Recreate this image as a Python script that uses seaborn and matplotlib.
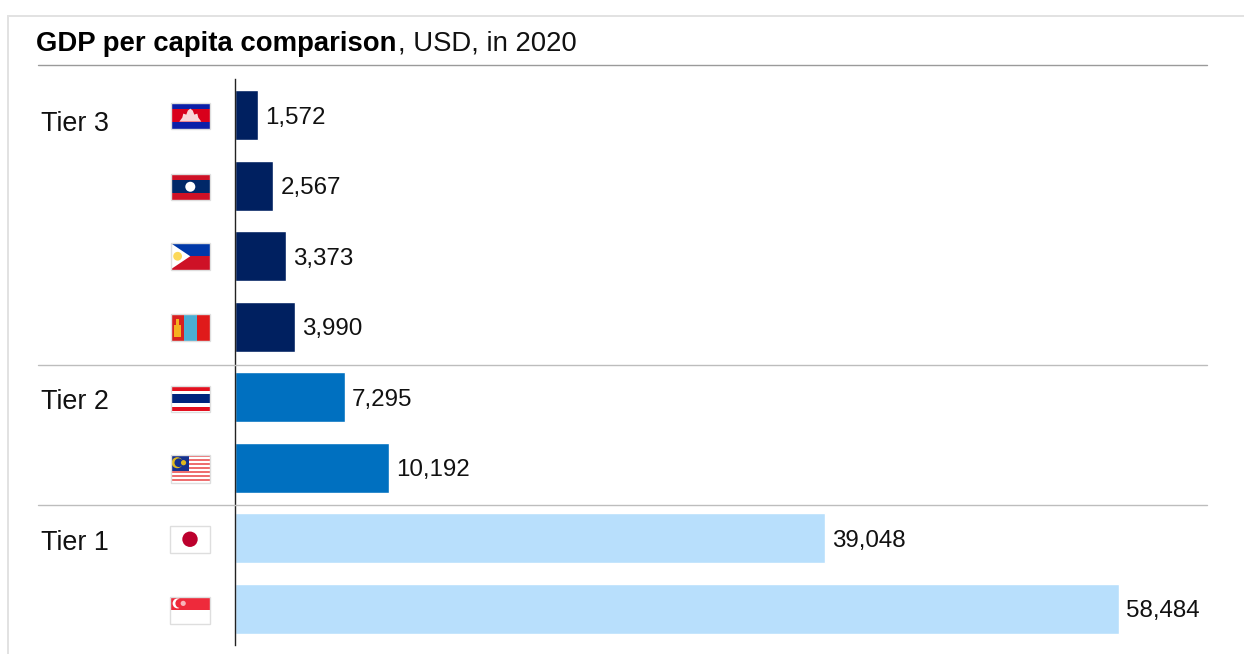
import matplotlib
matplotlib.use("Agg")
import matplotlib.pyplot as plt
from matplotlib.patches import Rectangle, Circle, Polygon
import pandas as pd
import seaborn as sns

countries = ["Cambodia", "Laos", "Philippines", "Mongolia", "Thailand", "Malaysia", "Japan", "Singapore"]
gdp_per_capita = [1572, 2567, 3373, 3990, 7295, 10192, 39048, 58484]
tiers = ["Tier 3", "Tier 3", "Tier 3", "Tier 3", "Tier 2", "Tier 2", "Tier 1", "Tier 1"]
tier_colors = {"Tier 3": "#002060", "Tier 2": "#0070C0", "Tier 1": "#B8DFFC"}

W, H = 1244, 654
sns.set_theme(style="white")
plt.rcParams["font.family"] = ["Liberation Sans", "DejaVu Sans"]
TEXT = "#111111"

fig = plt.figure(figsize=(W / 100, H / 100), dpi=100)
fig.patch.set_facecolor("white")

# Bar panel, placed in pixel terms: zero line at x=234.6, running from y=79.5 to y=645
X0 = 234.6
ax = fig.add_axes([X0 / W, 1 - 645 / H, (1207 - X0) / W, (645 - 79.5) / H])
df = pd.DataFrame({"country": countries, "gdp": gdp_per_capita, "tier": tiers})
sns.barplot(data=df, x="gdp", y="country", hue="tier", palette=tier_colors, dodge=False,
            width=0.705, legend=False, ax=ax, saturation=1, order=countries)
ax.set_xlim(0, (1207 - X0) / 0.01513)
ax.set_ylim(7.512, -0.505)
ax.set_xlabel("")
ax.set_ylabel("")
ax.set_xticks([])
ax.set_yticks([])
ax.patch.set_alpha(0)
for name in ("top", "right", "bottom"):
    ax.spines[name].set_visible(False)
ax.spines["left"].set_color("#222222")
ax.spines["left"].set_linewidth(1.0)

for i, value in enumerate(gdp_per_capita):
    ax.annotate(f"{value:,}", (value, i), xytext=(7, 0), textcoords="offset pixels",
                va="center_baseline", ha="left", fontsize=17.4, color=TEXT)

# Overlay in pixel coordinates for frame, rules, headings and flags
ov = fig.add_axes([0, 0, 1, 1], zorder=5)
ov.set_xlim(0, W)
ov.set_ylim(H, 0)
ov.axis("off")
ov.patch.set_alpha(0)

ov.plot([8, 8, W], [H, 15.5, 15.5], color="#E2E2E2", lw=1.4, solid_joinstyle="miter")
ov.plot([38, 1207], [65, 65], color="#9A9A9A", lw=1.0)
ov.plot([38, 1207], [364.5, 364.5], color="#BDBDBD", lw=1.0)
ov.plot([38, 1207], [505, 505], color="#BDBDBD", lw=1.0)

title = ov.text(36.5, 51, "GDP per capita comparison", fontsize=19.85, fontweight="bold", color="#000000", va="baseline")
fig.canvas.draw()
box = title.get_window_extent()
ov.text(box.x1 + 0.5, 51, ", USD, in 2020", fontsize=19.85, color=TEXT, va="baseline")

for label, y in [("Tier 3", 121), ("Tier 2", 399), ("Tier 1", 540)]:
    ov.text(41, y, label, fontsize=19.4, color=TEXT, va="center_baseline")


def rect(x, y, w, h, color, z=6):
    ov.add_patch(Rectangle((x, y), w, h, facecolor=color, edgecolor="none", zorder=z))


def border(x, y, w, h):
    ov.add_patch(Rectangle((x, y), w, h, facecolor="none", edgecolor="#DEDEDE", lw=1.0, zorder=9))


def flag_cambodia(x, y, w, h):
    rect(x, y, w, h * 0.25, "#0B1FA8")
    rect(x, y + h * 0.25, w, h * 0.5, "#D9001B")
    rect(x, y + h * 0.75, w, h * 0.25, "#0B1FA8")
    cx, b = x + w / 2, y + h * 0.73
    ov.add_patch(Polygon([(cx - 11, b), (cx - 8, b - 4), (cx - 7, b - 8), (cx - 4, b - 7), (cx - 2.5, b - 11),
                          (cx, b - 13), (cx + 2.5, b - 11), (cx + 4, b - 7), (cx + 7, b - 8), (cx + 8, b - 4),
                          (cx + 11, b)], facecolor="#F8D6D8", edgecolor="none", zorder=7))


def flag_laos(x, y, w, h):
    rect(x, y, w, h * 0.25, "#CE1126")
    rect(x, y + h * 0.25, w, h * 0.5, "#002868")
    rect(x, y + h * 0.75, w, h * 0.25, "#CE1126")
    ov.add_patch(Circle((x + w / 2, y + h / 2), 5, facecolor="white", edgecolor="none", zorder=7))


def flag_philippines(x, y, w, h):
    rect(x, y, w, h / 2, "#0038A8")
    rect(x, y + h / 2, w, h / 2, "#CE1126")
    ov.add_patch(Polygon([(x, y), (x + w * 0.5, y + h / 2), (x, y + h)], facecolor="white", edgecolor="none", zorder=7))
    ov.add_patch(Circle((x + w * 0.18, y + h / 2), 4.4, facecolor="#FCD85A", edgecolor="none", zorder=8))


def flag_mongolia(x, y, w, h):
    rect(x, y, w / 3, h, "#D9201F")
    rect(x + w / 3, y, w / 3, h, "#4AAED4")
    rect(x + 2 * w / 3, y, w / 3, h, "#E01A1A")
    cx = x + w / 6
    rect(cx - 3.5, y + h * 0.42, 7, h * 0.42, "#F5B01E", 7)
    rect(cx - 1.5, y + h * 0.2, 3, h * 0.2, "#F5B01E", 7)


def flag_thailand(x, y, w, h):
    rect(x, y, w, h, "#FFFFFF")
    rect(x, y + 1, w, h / 6, "#E3101F")
    rect(x, y + h / 3, w, h / 3, "#00247D")
    rect(x, y + 5 * h / 6 - 1, w, h / 6, "#E3101F")


def flag_malaysia(x, y, w, h):
    rect(x, y, w, h, "#FFFFFF")
    for k in range(0, 14, 2):
        rect(x, y + k * h / 14, w, h / 14, "#EE6F70")
    rect(x, y, w * 0.48, h * 0.57, "#15318F", 7)
    ov.add_patch(Circle((x + w * 0.17, y + h * 0.28), 5.5, facecolor="#E0B91E", edgecolor="none", zorder=8))
    ov.add_patch(Circle((x + w * 0.21, y + h * 0.28), 4.3, facecolor="#15318F", edgecolor="none", zorder=9))
    ov.add_patch(Circle((x + w * 0.33, y + h * 0.28), 2.6, facecolor="#E0B91E", edgecolor="none", zorder=9))


def flag_japan(x, y, w, h):
    rect(x, y, w, h, "#FFFFFF")
    ov.add_patch(Circle((x + w / 2, y + h / 2), 7.7, facecolor="#BC002D", edgecolor="none", zorder=7))


def flag_singapore(x, y, w, h):
    rect(x, y, w, h / 2, "#EE2A3B")
    rect(x, y + h / 2, w, h / 2, "#FFFFFF")
    ov.add_patch(Circle((x + w * 0.19, y + h * 0.25), 5, facecolor="white", edgecolor="none", zorder=7))
    ov.add_patch(Circle((x + w * 0.25, y + h * 0.25), 4.6, facecolor="#EE2A3B", edgecolor="none", zorder=8))
    ov.add_patch(Circle((x + w * 0.33, y + h * 0.25), 2.6, facecolor="#F7B5BA", edgecolor="none", zorder=9))


flags = [
    (flag_cambodia, 170.8, 103, 39, 25.5),
    (flag_laos, 170.8, 174, 39, 25.5),
    (flag_philippines, 170.5, 243, 39.5, 26.5),
    (flag_mongolia, 170.5, 314, 39.5, 27),
    (flag_thailand, 170.5, 385.5, 39.5, 26.5),
    (flag_malaysia, 170.5, 455, 39.5, 27.5),
    (flag_japan, 170, 525.5, 40, 27.5),
    (flag_singapore, 170, 596.5, 40, 27.5),
]
for draw, x, y, w, h in flags:
    draw(x, y, w, h)
    border(x, y, w, h)

fig.savefig("out.png", dpi=100)
